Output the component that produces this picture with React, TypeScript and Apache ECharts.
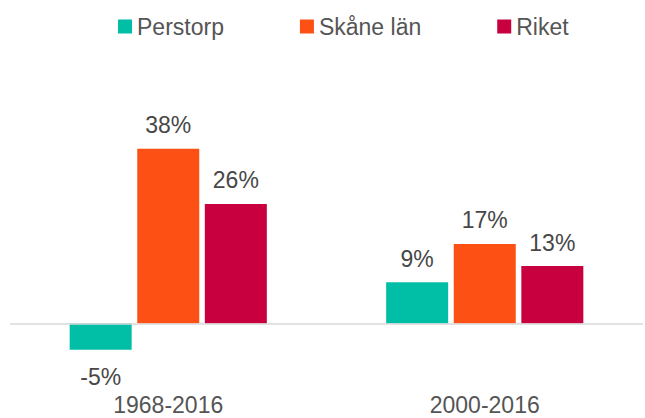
import React, { useEffect, useRef } from "react";
import * as echarts from "echarts";

const categories = ["1968-2016", "2000-2016"];
const seriesNames = ["Perstorp", "Skåne län", "Riket"];
const perstorpValues = [-5.7, 9];
const skaneValues = [38, 17.3];
const riketValues = [26, 12.5];
const perstorpLabels = ["-5%", "9%"];
const skaneLabels = ["38%", "17%"];
const riketLabels = ["26%", "13%"];
const colors = ["#00BFA6", "#FC5015", "#C9003F"];

export default function App() {
  const ref = useRef<HTMLDivElement>(null);
  useEffect(() => {
    if (!ref.current) return;
    const chart = echarts.init(ref.current, null, { renderer: "svg" });
    const textColor = "#474747";
    const font = "Liberation Sans, Arial, sans-serif";
    const fs = 23;
    const makeSeries = (name: string, values: number[], labels: string[], color: string, withZeroLine: boolean) => ({
      name,
      type: "bar",
      barWidth: 62,
      barGap: "9%",
      itemStyle: { color },
      data: values.map((v, i) => ({
        value: v,
        label: {
          show: true,
          position: v < 0 ? "bottom" : "top",
          distance: v < 0 ? 16 : 12,
          formatter: () => labels[i],
          color: textColor,
          fontSize: fs,
          fontFamily: font,
        },
      })),
      markLine: withZeroLine
        ? {
            silent: true,
            symbol: "none",
            label: { show: false },
            lineStyle: { color: "#d9d9d9", width: 1.5, type: "solid" },
            data: [{ yAxis: 0 }],
          }
        : undefined,
      z: 3,
    });
    chart.setOption({
      animation: false,
      color: colors,
      legend: {
        top: 10,
        left: 113,
        itemWidth: 14,
        itemHeight: 14,
        itemGap: 76,
        icon: "rect",
        data: seriesNames,
        textStyle: { color: "#555555", fontSize: fs, fontFamily: font },
      },
      grid: { left: 10, right: 2, top: 139.5, bottom: 30 },
      xAxis: {
        type: "category",
        data: categories,
        axisLine: { show: false, onZero: false },
        axisTick: { show: false },
        axisLabel: { color: "#555555", fontSize: fs, fontFamily: font, margin: 5 },
      },
      yAxis: {
        type: "value",
        min: -14,
        max: 40,
        show: false,
        splitLine: { show: false },
      },
      series: [
        makeSeries(seriesNames[0], perstorpValues, perstorpLabels, colors[0], true),
        makeSeries(seriesNames[1], skaneValues, skaneLabels, colors[1], false),
        makeSeries(seriesNames[2], riketValues, riketLabels, colors[2], false),
      ],
    });
    return () => chart.dispose();
  }, []);
  return (
    <div
      ref={ref}
      style={{ position: "absolute", left: 0, top: 0, width: 645, height: 418, background: "#fff" }}
    />
  );
}
